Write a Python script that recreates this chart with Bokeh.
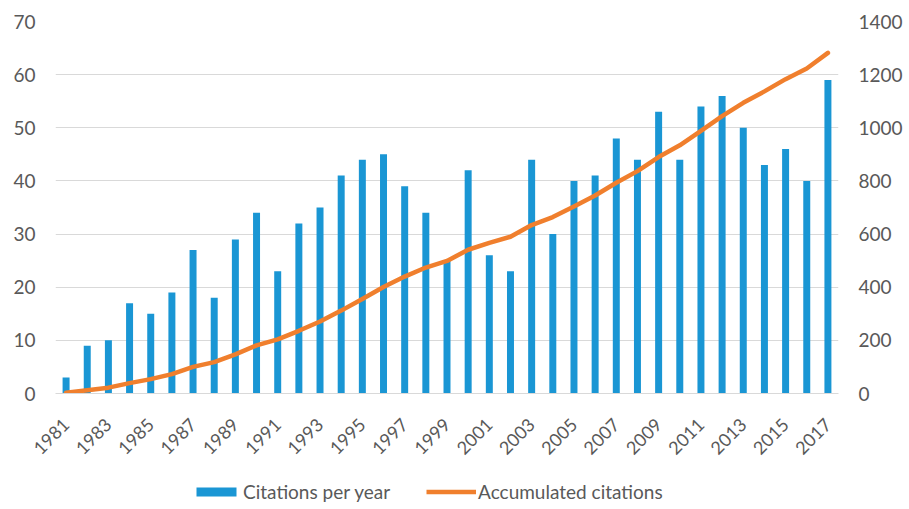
import math
from bokeh.plotting import figure
from bokeh.layouts import column
from bokeh.models import (ColumnDataSource, Range1d, LinearAxis, FixedTicker,
                          Legend, LegendItem)
from bokeh.embed import file_html
from bokeh.resources import INLINE

years = list(range(1981, 2018))
citations = [3, 9, 10, 17, 15, 19, 27, 18, 29, 34, 23, 32, 35, 41, 44, 45, 39, 34,
             25, 42, 26, 23, 44, 30, 40, 41, 48, 44, 53, 44, 54, 56, 50, 43, 46, 40, 59]
accumulated = [3, 12, 22, 39, 54, 73, 100, 118, 147, 181, 204, 236, 271, 312, 356,
               401, 440, 474, 499, 541, 567, 590, 634, 664, 704, 745, 793, 837, 890,
               934, 988, 1044, 1094, 1137, 1183, 1223, 1282]
left_ticks = [0, 10, 20, 30, 40, 50, 60, 70]
right_ticks = [0, 200, 400, 600, 800, 1000, 1200, 1400]
label_years = list(range(1981, 2018, 2))
series_names = ["Citations per year", "Accumulated citations"]

FONT = "Lato"
BLUE = "#1A96D4"
ORANGE = "#F07F2D"
TXT = "#595959"

src = ColumnDataSource(dict(year=years, cit=citations, acc=accumulated))

p = figure(width=909, height=472, output_backend="svg", toolbar_location=None,
           x_range=Range1d(1980.5, 2017.5), y_range=Range1d(0, 70),
           min_border_left=55, min_border_right=71, min_border_top=21,
           min_border_bottom=79)
p.outline_line_color = None
p.background_fill_color = "white"
p.border_fill_color = "white"

p.extra_y_ranges = {"acc": Range1d(0, 1400)}

p.vbar(x="year", top="cit", width=0.33, source=src, fill_color=BLUE,
       line_color=None)
p.line(x="year", y="acc", source=src, y_range_name="acc",
       line_color=ORANGE, line_width=4.5, line_cap="round", line_join="round")

# axes
p.xaxis.ticker = FixedTicker(ticks=label_years)
p.xaxis.major_label_orientation = math.pi / 4
p.xaxis.axis_line_color = "#D9D9D9"
p.xaxis.major_tick_line_color = None
p.xaxis.minor_tick_line_color = None
p.xaxis.major_tick_out = 0
p.xaxis.major_tick_in = 0
p.xaxis.major_label_text_font = FONT
p.xaxis.major_label_text_font_size = "18px"
p.xaxis.major_label_text_color = TXT
p.xaxis.major_label_standoff = 28

p.yaxis.ticker = FixedTicker(ticks=left_ticks)
p.yaxis.axis_line_color = None
p.yaxis.major_tick_line_color = None
p.yaxis.minor_tick_line_color = None
p.yaxis.major_tick_out = 0
p.yaxis.major_label_text_font = FONT
p.yaxis.major_label_text_font_size = "19px"
p.yaxis.major_label_text_color = TXT
p.yaxis.major_label_standoff = 20

ry = LinearAxis(y_range_name="acc", ticker=FixedTicker(ticks=right_ticks))
ry.axis_line_color = None
ry.major_tick_line_color = None
ry.minor_tick_line_color = None
ry.major_tick_out = 0
ry.major_label_text_font = FONT
ry.major_label_text_font_size = "19px"
ry.major_label_text_color = TXT
ry.major_label_standoff = 20
p.add_layout(ry, "right")

p.xgrid.grid_line_color = None
p.ygrid.ticker = FixedTicker(ticks=left_ticks)
p.ygrid.grid_line_color = "#D9D9D9"
p.ygrid.grid_line_width = 1

# legend strip: a small figure whose y range lies far above all data, so only
# the legend swatches show
lg = figure(width=909, height=37, output_backend="svg", toolbar_location=None,
            x_range=Range1d(1980.5, 2017.5), y_range=Range1d(50000, 50100),
            x_axis_location=None, y_axis_location=None,
            min_border_left=0, min_border_right=0, min_border_top=0,
            min_border_bottom=0)
lg.outline_line_color = None
lg.xgrid.grid_line_color = None
lg.ygrid.grid_line_color = None
rb = lg.vbar(x="year", top="cit", width=0.33, source=src, fill_color=BLUE,
             line_color=None)
rl = lg.line(x="year", y="acc", source=src, line_color=ORANGE, line_width=4.5)

legend = Legend(items=[LegendItem(label=series_names[0], renderers=[rb]),
                       LegendItem(label=series_names[1], renderers=[rl])],
                orientation="horizontal", location=(136, 6))
legend.label_text_font = FONT
legend.label_text_font_size = "19px"
legend.label_text_color = TXT
legend.glyph_width = 50
legend.glyph_height = 11
legend.spacing = 36
legend.label_standoff = 2
legend.border_line_color = None
legend.background_fill_alpha = 0
legend.padding = 0
legend.margin = 0
lg.add_layout(legend)

layout = column(p, lg, spacing=0)
open("out.html", "w").write(file_html(layout, INLINE))
